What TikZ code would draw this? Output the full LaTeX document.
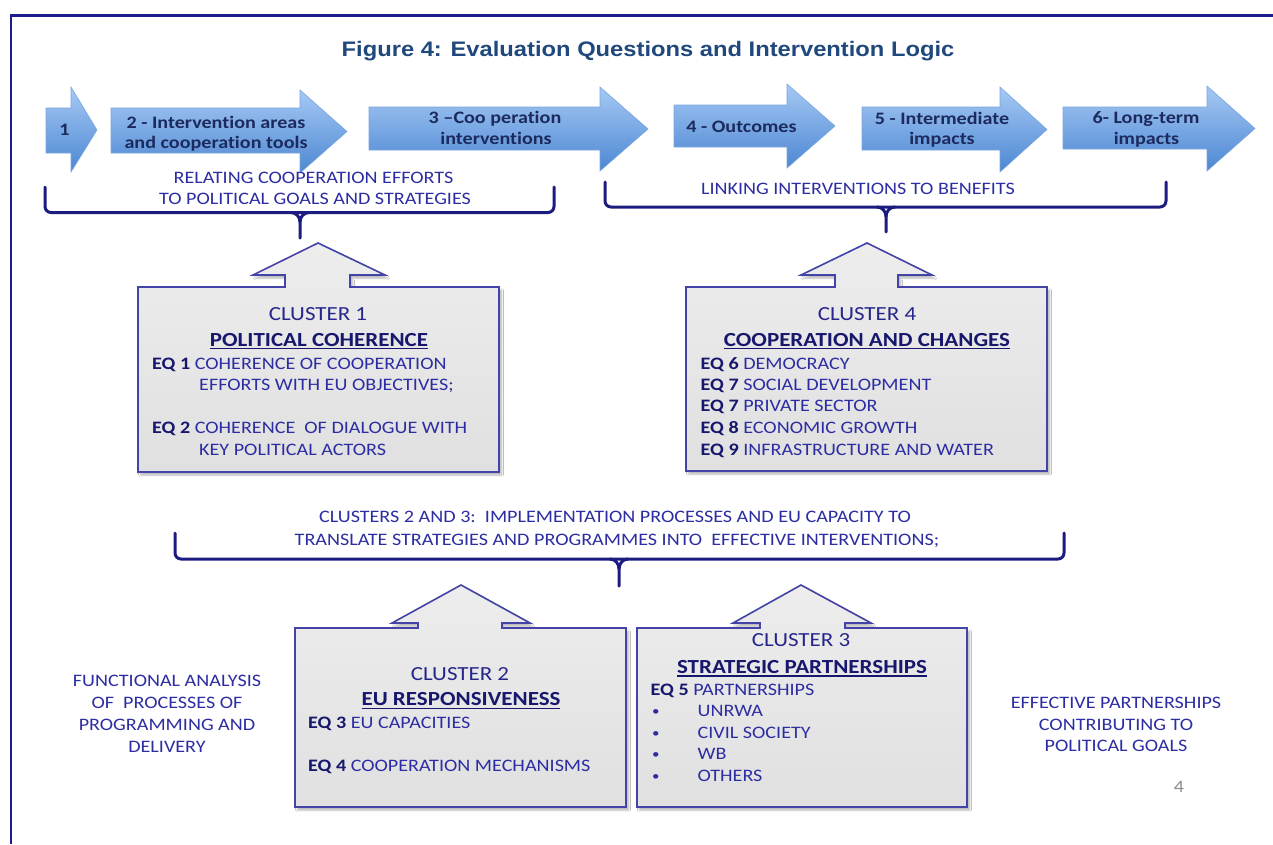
\documentclass[tikz,border=0pt]{standalone}
\usepackage{fontspec}
\setmainfont{Carlito}[FakeStretch=1.15, Ligatures=NoCommon]
\newfontfamily\titlefont{Liberation Sans}[FakeStretch=1.13]
\usetikzlibrary{shadows.blur}
\definecolor{framec}{HTML}{1C1C8F}
\definecolor{titlec}{HTML}{1F497D}
\definecolor{arrtop}{HTML}{A6C9F5}
\definecolor{arrbot}{HTML}{4C87D2}
\definecolor{arredge}{HTML}{7AA6DE}
\definecolor{arrtext}{HTML}{1C2A5E}
\definecolor{bracec}{HTML}{1C1C80}
\definecolor{bluetext}{HTML}{2D2DA3}
\definecolor{headtext}{HTML}{26268A}
\definecolor{navytext}{HTML}{17176E}
\definecolor{boxedge}{HTML}{4343A8}
\definecolor{boxtop}{HTML}{EDEDED}
\definecolor{boxbot}{HTML}{E0E0E0}
\definecolor{pagenum}{HTML}{8C8C8C}
\newcommand\bodysize{\fontsize{17.5pt}{21.7pt}\selectfont}
\newcommand\headsize{\fontsize{20pt}{24pt}\selectfont}
\newcommand\arrsize{\fontsize{17.5pt}{21pt}\selectfont\bfseries}
\newcommand\ulx[1]{\setbox0\hbox{#1}\rlap{\rule[-3.4pt]{\wd0}{1.5pt}}\box0}
\newcommand\eq[1]{{\bfseries\color{navytext}#1}}
\newcommand\smallbullet{\raisebox{1.2pt}{\fontsize{13pt}{13pt}\selectfont •}}
\begin{document}
\begin{tikzpicture}[x=1pt,y=-1pt,
  flowarrow/.style={top color=arrtop, bottom color=arrbot, draw=arredge, line width=0.6pt},
  arrlbl/.style={text=arrtext, font=\arrsize, inner sep=0pt, anchor=base},
  lbl/.style={text=bluetext, font=\bodysize, inner sep=0pt, anchor=base},
  lbll/.style={text=bluetext, font=\bodysize, inner sep=0pt, anchor=base west},
  clhead/.style={text=headtext, font=\headsize, inner sep=0pt, anchor=base},
  cltitle/.style={text=navytext, font=\headsize\bfseries, inner sep=0pt, anchor=base},
  bracepath/.style={draw=bracec, line width=3pt, line cap=round, line join=round},
  clusterbox/.style={top color=boxtop, bottom color=boxbot, draw=boxedge, line width=1.6pt,
    blur shadow={shadow xshift=2.5pt, shadow yshift=-3pt, shadow blur steps=6, shadow opacity=30}}
]
\useasboundingbox (0,0) rectangle (1273,844);
\fill[white] (0,0) rectangle (1273,844);
% frame
\draw[framec, line width=2.5pt] (1273,15.5) -- (11,15.5) -- (11,844);
% title
\node[inner sep=0pt, anchor=base, text=titlec, font=\titlefont\fontsize{21pt}{25pt}\selectfont\bfseries] (title) at (648,56) {Figure 4: Evaluation Questions and Intervention Logic};

% top flow arrows
\path[flowarrow] (46,108) -- (71,108) -- (71,87) -- (97,130) -- (71,172) -- (71,153) -- (46,153) -- cycle;
\path[flowarrow] (111,108) -- (300,108) -- (300,90) -- (347,131.5) -- (300,173) -- (300,153) -- (111,153) -- cycle;
\path[flowarrow] (369,107) -- (600,107) -- (600,87) -- (648,129) -- (600,171) -- (600,150) -- (369,150) -- cycle;
\path[flowarrow] (674,105) -- (787,105) -- (787,84) -- (835,126) -- (787,168) -- (787,147) -- (674,147) -- cycle;
\path[flowarrow] (862,107) -- (1000,107) -- (1000,87) -- (1047,129.5) -- (1000,172) -- (1000,150) -- (862,150) -- cycle;
\path[flowarrow] (1063,107) -- (1207,107) -- (1207,86) -- (1255,128.5) -- (1207,171) -- (1207,149) -- (1063,149) -- cycle;

\node[arrlbl] (a1) at (64.5,135) {1};
\node[arrlbl] (a2a) at (216,128.3) {2 - Intervention areas};
\node[arrlbl] (a2b) at (216,148.5) {and cooperation tools};
\node[arrlbl] (a3a) at (495,123.3) {3 –Coo peration};
\node[arrlbl] (a3b) at (496,144) {interventions};
\node[arrlbl] (a4) at (741.5,132.7) {4 - Outcomes};
\node[arrlbl] (a5a) at (942,124) {5 - Intermediate};
\node[arrlbl] (a5b) at (942,144) {impacts};
\node[arrlbl] (a6a) at (1146,123.3) {6- Long-term};
\node[arrlbl] (a6b) at (1146.5,144) {impacts};

% bracket 1
\node[lbl] (rel1) at (313.5,183.3) {RELATING COOPERATION EFFORTS};
\node[lbl] (rel2) at (315,204.3) {TO POLITICAL GOALS AND STRATEGIES};
\draw[bracepath, rounded corners=6pt] (45,187) -- (45,212.5) -- (554,212.5) -- (554,187);
\draw[bracepath] (291,212.5) to[out=0,in=90] (300,222) -- (300,238);
\draw[bracepath] (309,212.5) to[out=180,in=90] (300,222);

% bracket 2
\node[lbl] (link) at (858,194) {LINKING INTERVENTIONS TO BENEFITS};
\draw[bracepath, rounded corners=6pt] (605,182) -- (605,207) -- (1166,207) -- (1166,182);
\draw[bracepath] (877,207) to[out=0,in=90] (886,216.5) -- (886,232);
\draw[bracepath] (895,207) to[out=180,in=90] (886,216.5);

% cluster 1
\path[clusterbox] (138,287) -- (285,287) -- (285,275) -- (253,275) -- (318,243) -- (385,275) -- (350,275) -- (350,287) -- (499,287) -- (499,472) -- (138,472) -- cycle;
\node[clhead] (c1h) at (318,320.5) {CLUSTER 1};
\node[cltitle] (c1t) at (319,346) {\ulx{POLITICAL COHERENCE}};
\node[lbll] (c1a) at (152,369) {\eq{EQ 1} COHERENCE OF COOPERATION};
\node[lbll] (c1b) at (199,390.5) {EFFORTS WITH EU OBJECTIVES;};
\node[lbll] (c1c) at (152,433) {\eq{EQ 2} COHERENCE\ \ OF DIALOGUE WITH};
\node[lbll] (c1d) at (199,455) {KEY POLITICAL ACTORS};

% cluster 4
\path[clusterbox] (686,287) -- (835,287) -- (835,275) -- (801,275) -- (867,243) -- (932,275) -- (898,275) -- (898,287) -- (1047,287) -- (1047,471) -- (686,471) -- cycle;
\node[clhead] (c4h) at (867,320.5) {CLUSTER 4};
\node[cltitle] (c4t) at (867,346) {\ulx{COOPERATION AND CHANGES}};
\node[lbll] (c4a) at (700.5,369.3) {\eq{EQ 6} DEMOCRACY};
\node[lbll] (c4b) at (700.5,390.7) {\eq{EQ 7} SOCIAL DEVELOPMENT};
\node[lbll] (c4c) at (700.5,411.7) {\eq{EQ 7} PRIVATE SECTOR};
\node[lbll] (c4d) at (700.5,433.3) {\eq{EQ 8} ECONOMIC GROWTH};
\node[lbll] (c4e) at (700.5,455) {\eq{EQ 9} INFRASTRUCTURE AND WATER};

% bracket 3
\node[lbl] (cl23a) at (615,522.7) {CLUSTERS 2 AND 3:\ \ IMPLEMENTATION PROCESSES AND EU CAPACITY TO};
\node[lbl] (cl23b) at (617,545) {TRANSLATE STRATEGIES AND PROGRAMMES INTO\ \ EFFECTIVE INTERVENTIONS;};
\draw[bracepath, rounded corners=6pt] (175,533) -- (175,559) -- (1064,559) -- (1064,533);
\draw[bracepath] (610,559) to[out=0,in=90] (619,569) -- (619,586);
\draw[bracepath] (628,559) to[out=180,in=90] (619,569);

% cluster 2
\path[clusterbox] (295,628) -- (418,628) -- (418,623) -- (392,623) -- (461,585) -- (530,623) -- (502,623) -- (502,628) -- (626,628) -- (626,807) -- (295,807) -- cycle;
\node[clhead] (c2h) at (460,680) {CLUSTER 2};
\node[cltitle] (c2t) at (461,705.7) {\ulx{EU RESPONSIVENESS}};
\node[lbll] (c2a) at (308,728.3) {\eq{EQ 3} EU CAPACITIES};
\node[lbll] (c2b) at (308,771) {\eq{EQ 4} COOPERATION MECHANISMS};

% cluster 3
\path[clusterbox] (637,628) -- (760,628) -- (760,623) -- (733,623) -- (801,585) -- (871,623) -- (845,623) -- (845,628) -- (967,628) -- (967,807) -- (637,807) -- cycle;
\node[clhead] (c3h) at (801,646.7) {CLUSTER 3};
\node[cltitle] (c3t) at (802,673.3) {\ulx{STRATEGIC PARTNERSHIPS}};
\node[lbll] (c3a) at (650.5,695.7) {\eq{EQ 5} PARTNERSHIPS};
\node[lbll] (b1) at (652,716.7) {\smallbullet};
\node[lbll] (c3b) at (697.4,716.7) {UNRWA};
\node[lbll] (b2) at (652,738.3) {\smallbullet};
\node[lbll] (c3c) at (697.4,738.3) {CIVIL SOCIETY};
\node[lbll] (b3) at (652,759.3) {\smallbullet};
\node[lbll] (c3d) at (697.4,759.3) {WB};
\node[lbll] (b4) at (652,781.7) {\smallbullet};
\node[lbll] (c3e) at (697.4,781.7) {OTHERS};

% side labels
\node[lbl] (fa1) at (167,686.7) {FUNCTIONAL ANALYSIS};
\node[lbl] (fa2) at (167,708.3) {OF\ \ PROCESSES OF};
\node[lbl] (fa3) at (167,730) {PROGRAMMING AND};
\node[lbl] (fa4) at (167,752.3) {DELIVERY};
\node[lbl] (ep1) at (1116,708.3) {EFFECTIVE PARTNERSHIPS};
\node[lbl] (ep2) at (1116,730) {CONTRIBUTING TO};
\node[lbl] (ep3) at (1116,751) {POLITICAL GOALS};
\node[lbl, text=pagenum] (pg) at (1179,792.7) {4};
\end{tikzpicture}
\end{document}
